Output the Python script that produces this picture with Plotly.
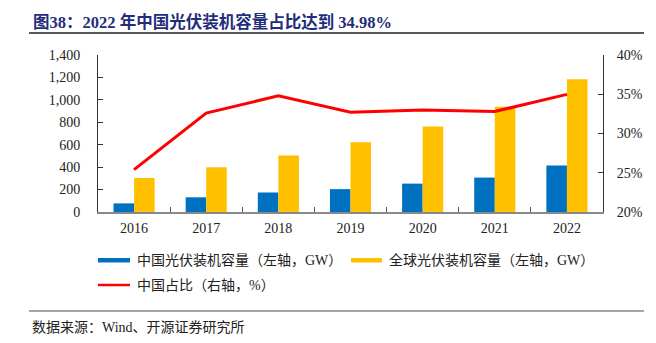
import plotly.graph_objects as go

# 装机容量数据（GW）与中国占比（%）
years = ["2016", "2017", "2018", "2019", "2020", "2021", "2022"]
china_gw = [77, 131, 174, 204, 253, 307, 414]
global_gw = [303, 400, 504, 623, 762, 938, 1183]
china_share = [25.4, 32.6, 34.8, 32.7, 33.0, 32.8, 34.98]

left_ticks = [0, 200, 400, 600, 800, 1000, 1200, 1400]
right_ticks = [20, 25, 30, 35, 40]
right_labels = ["20%", "25%", "30%", "35%", "40%"]

name_cn = "中国光伏装机容量（左轴，GW）"
name_gl = "全球光伏装机容量（左轴，GW）"
name_share = "中国占比（右轴，%）"

BLUE = "#0070C0"
YELLOW = "#FFC000"
RED = "#FF0000"
NAVY = "#1F2D7B"
FONT = "Liberation Serif, Noto Sans CJK SC, serif"

fig = go.Figure()
fig.add_trace(go.Bar(x=years, y=china_gw, name=name_cn, marker_color=BLUE,
                     marker_line_width=0, yaxis="y"))
fig.add_trace(go.Bar(x=years, y=global_gw, name=name_gl, marker_color=YELLOW,
                     marker_line_width=0, yaxis="y"))
fig.add_trace(go.Scatter(x=years, y=china_share, name=name_share, mode="lines",
                         line=dict(color=RED, width=3), yaxis="y2"))

W, H = 656, 343
L, R, T, B = 98, 53, 55, 131

fig.update_layout(
    width=W, height=H,
    margin=dict(l=L, r=R, t=T, b=B),
    paper_bgcolor="white", plot_bgcolor="white",
    barmode="group", bargap=0.43, bargroupgap=0,
    showlegend=False,
    font=dict(family=FONT, size=14, color="#222"),
    xaxis=dict(
        type="category", showgrid=False, showline=True, linecolor="#888",
        linewidth=1.5, ticks="inside", ticklen=5, tickcolor="#555",
        tickson="boundaries", tickfont=dict(size=14, color="#222"),
        ticklabelstandoff=2,
    ),
    yaxis=dict(
        range=[0, 1400], tickvals=left_ticks, tickformat=",d", showgrid=False,
        showline=True, linecolor="#333", linewidth=1, ticks="inside",
        ticklen=5, tickcolor="#333", zeroline=False,
        tickfont=dict(size=14, color="#222"), ticklabelstandoff=14,
    ),
    yaxis2=dict(
        overlaying="y", side="right", range=[20, 40], tickvals=right_ticks,
        ticktext=right_labels, showgrid=False, showline=True, linecolor="#333",
        linewidth=1, ticks="inside", ticklen=5, tickcolor="#333",
        zeroline=False, tickfont=dict(size=14, color="#222"),
        ticklabelstandoff=10,
    ),
)


# 标题、图例与来源按整页像素定位
def paper_x(p):
    return (p - L) / (W - L - R)


def paper_y(p):
    return (H - B - p) / (H - T - B)


shapes = [
    dict(type="line", xref="paper", yref="paper",
         x0=paper_x(29), x1=paper_x(644), y0=paper_y(33), y1=paper_y(33),
         line=dict(color="#222", width=1.3)),
    dict(type="line", xref="paper", yref="paper",
         x0=paper_x(29), x1=paper_x(644), y0=paper_y(311), y1=paper_y(311),
         line=dict(color="#888", width=1.5)),
    dict(type="rect", xref="paper", yref="paper",
         x0=paper_x(98), x1=paper_x(130), y0=paper_y(258), y1=paper_y(262.5),
         fillcolor=BLUE, line_width=0),
    dict(type="rect", xref="paper", yref="paper",
         x0=paper_x(351), x1=paper_x(382), y0=paper_y(258), y1=paper_y(262.5),
         fillcolor=YELLOW, line_width=0),
    dict(type="line", xref="paper", yref="paper",
         x0=paper_x(98), x1=paper_x(130), y0=paper_y(285), y1=paper_y(285),
         line=dict(color=RED, width=2.5)),
]

annotations = [
    dict(text="<b>图38：2022 年中国光伏装机容量占比达到 34.98%</b>",
         xref="paper", yref="paper", x=paper_x(31), y=paper_y(22),
         xanchor="left", yanchor="middle", showarrow=False,
         font=dict(size=16.5, color=NAVY, family=FONT)),
    dict(text=name_cn, xref="paper", yref="paper", x=paper_x(135), y=paper_y(260),
         xanchor="left", yanchor="middle", showarrow=False,
         font=dict(size=14, color="#222")),
    dict(text=name_gl, xref="paper", yref="paper", x=paper_x(387), y=paper_y(260),
         xanchor="left", yanchor="middle", showarrow=False,
         font=dict(size=14, color="#222")),
    dict(text=name_share, xref="paper", yref="paper", x=paper_x(135), y=paper_y(285),
         xanchor="left", yanchor="middle", showarrow=False,
         font=dict(size=14, color="#222")),
    dict(text="数据来源：Wind、开源证券研究所", xref="paper", yref="paper",
         x=paper_x(30), y=paper_y(327), xanchor="left", yanchor="middle",
         showarrow=False, font=dict(size=14, color="#222")),
]

fig.update_layout(shapes=shapes, annotations=annotations)
fig.write_html("out.html")
